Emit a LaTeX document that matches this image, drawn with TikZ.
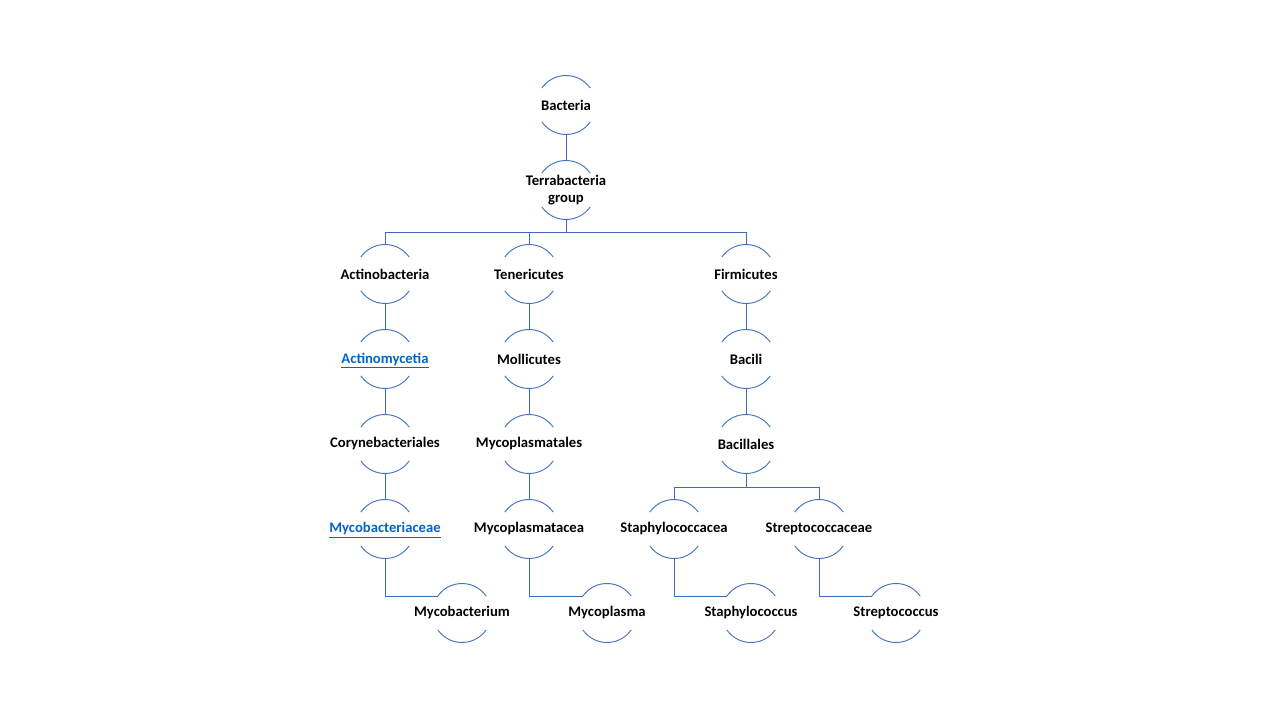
\documentclass[tikz,border=0pt]{standalone}
\usepackage{fontspec}
\setmainfont{Carlito}
% underlined link text that keeps the box size of the plain word
\newcommand\linkword[1]{\raisebox{0pt}[0pt][0pt]{\underline{#1}}\vphantom{#1}}
\begin{document}
\begin{tikzpicture}[x=0.75pt,y=0.75pt,
  taxon/.style={font=\bfseries\fontsize{11}{12.5}\selectfont, align=center, inner sep=0pt},
  linkstyle/.style={text=linkblue},
  arcline/.style={draw=lineblue, line width=0.7pt},
  conn/.style={draw=connblue, line width=0.75pt}]
\definecolor{lineblue}{HTML}{4472C4}
\definecolor{connblue}{HTML}{3F6BBC}
\definecolor{linkblue}{HTML}{0563C1}
\useasboundingbox (0,0) rectangle (1280,-720);
\def\R{29.5}
% taxon labels
\node[taxon] (bac)   at (566,-105) {Bacteria};
\node[taxon] (terra) at (566,-190) {Terrabacteria\\group};
\node[taxon] (actb)  at (385,-274) {Actinobacteria};
\node[taxon] (tene)  at (529,-274) {Tenericutes};
\node[taxon] (firm)  at (746,-274) {Firmicutes};
\node[taxon,linkstyle] (actm) at (385,-359) {\linkword{Actinomycetia}};
\node[taxon] (moll)  at (529,-359) {Mollicutes};
\node[taxon] (baci)  at (746,-359) {Bacili};
\node[taxon] (cory)  at (385,-444) {Corynebacteriales};
\node[taxon] (mpls)  at (529,-444) {Mycoplasmatales};
\node[taxon] (bcll)  at (746,-444) {Bacillales};
\node[taxon,linkstyle] (mycf) at (385,-529) {\linkword{Mycobacteriaceae}};
\node[taxon] (mplf)  at (529,-529) {Mycoplasmatacea};
\node[taxon] (stpf)  at (674,-529) {Staphylococcacea};
\node[taxon] (strf)  at (819,-529) {Streptococcaceae};
\node[taxon] (mycg)  at (462,-613) {Mycobacterium};
\node[taxon] (mplg)  at (607,-613) {Mycoplasma};
\node[taxon] (stpg)  at (751,-613) {Staphylococcus};
\node[taxon] (strg)  at (896,-613) {Streptococcus};
% upper and lower arcs of each circle
\foreach \n in {bac,terra,actb,tene,firm,actm,moll,baci,cory,mpls,bcll,mycf,mplf,stpf,strf,mycg,mplg,stpg,strg}{
  \draw[arcline] ([shift={(35:\R)}]\n.center) arc[start angle=35,end angle=145,radius=\R];
  \draw[arcline] ([shift={(215:\R)}]\n.center) arc[start angle=215,end angle=325,radius=\R];
}
% straight links
\foreach \a/\b in {bac/terra,actb/actm,actm/cory,cory/mycf,tene/moll,moll/mpls,mpls/mplf,firm/baci,baci/bcll}{
  \draw[conn] ([shift={(0,-\R)}]\a.center) -- ([shift={(0,\R)}]\b.center);
}
% branching links
\foreach \c in {actb,tene,firm}{
  \draw[conn] ([shift={(0,-\R)}]terra.center) -- ++(0,-13.5) -| ([shift={(0,\R)}]\c.center);
}
\foreach \c in {stpf,strf}{
  \draw[conn] ([shift={(0,-\R)}]bcll.center) -- ++(0,-14) -| ([shift={(0,\R)}]\c.center);
}
% elbow links to the genera
\foreach \a/\b in {mycf/mycg,mplf/mplg,stpf/stpg,strf/strg}{
  \draw[conn] ([shift={(0,-\R)}]\a.center) |- ([shift={(145:\R)}]\b.center);
}
\end{tikzpicture}
\end{document}
